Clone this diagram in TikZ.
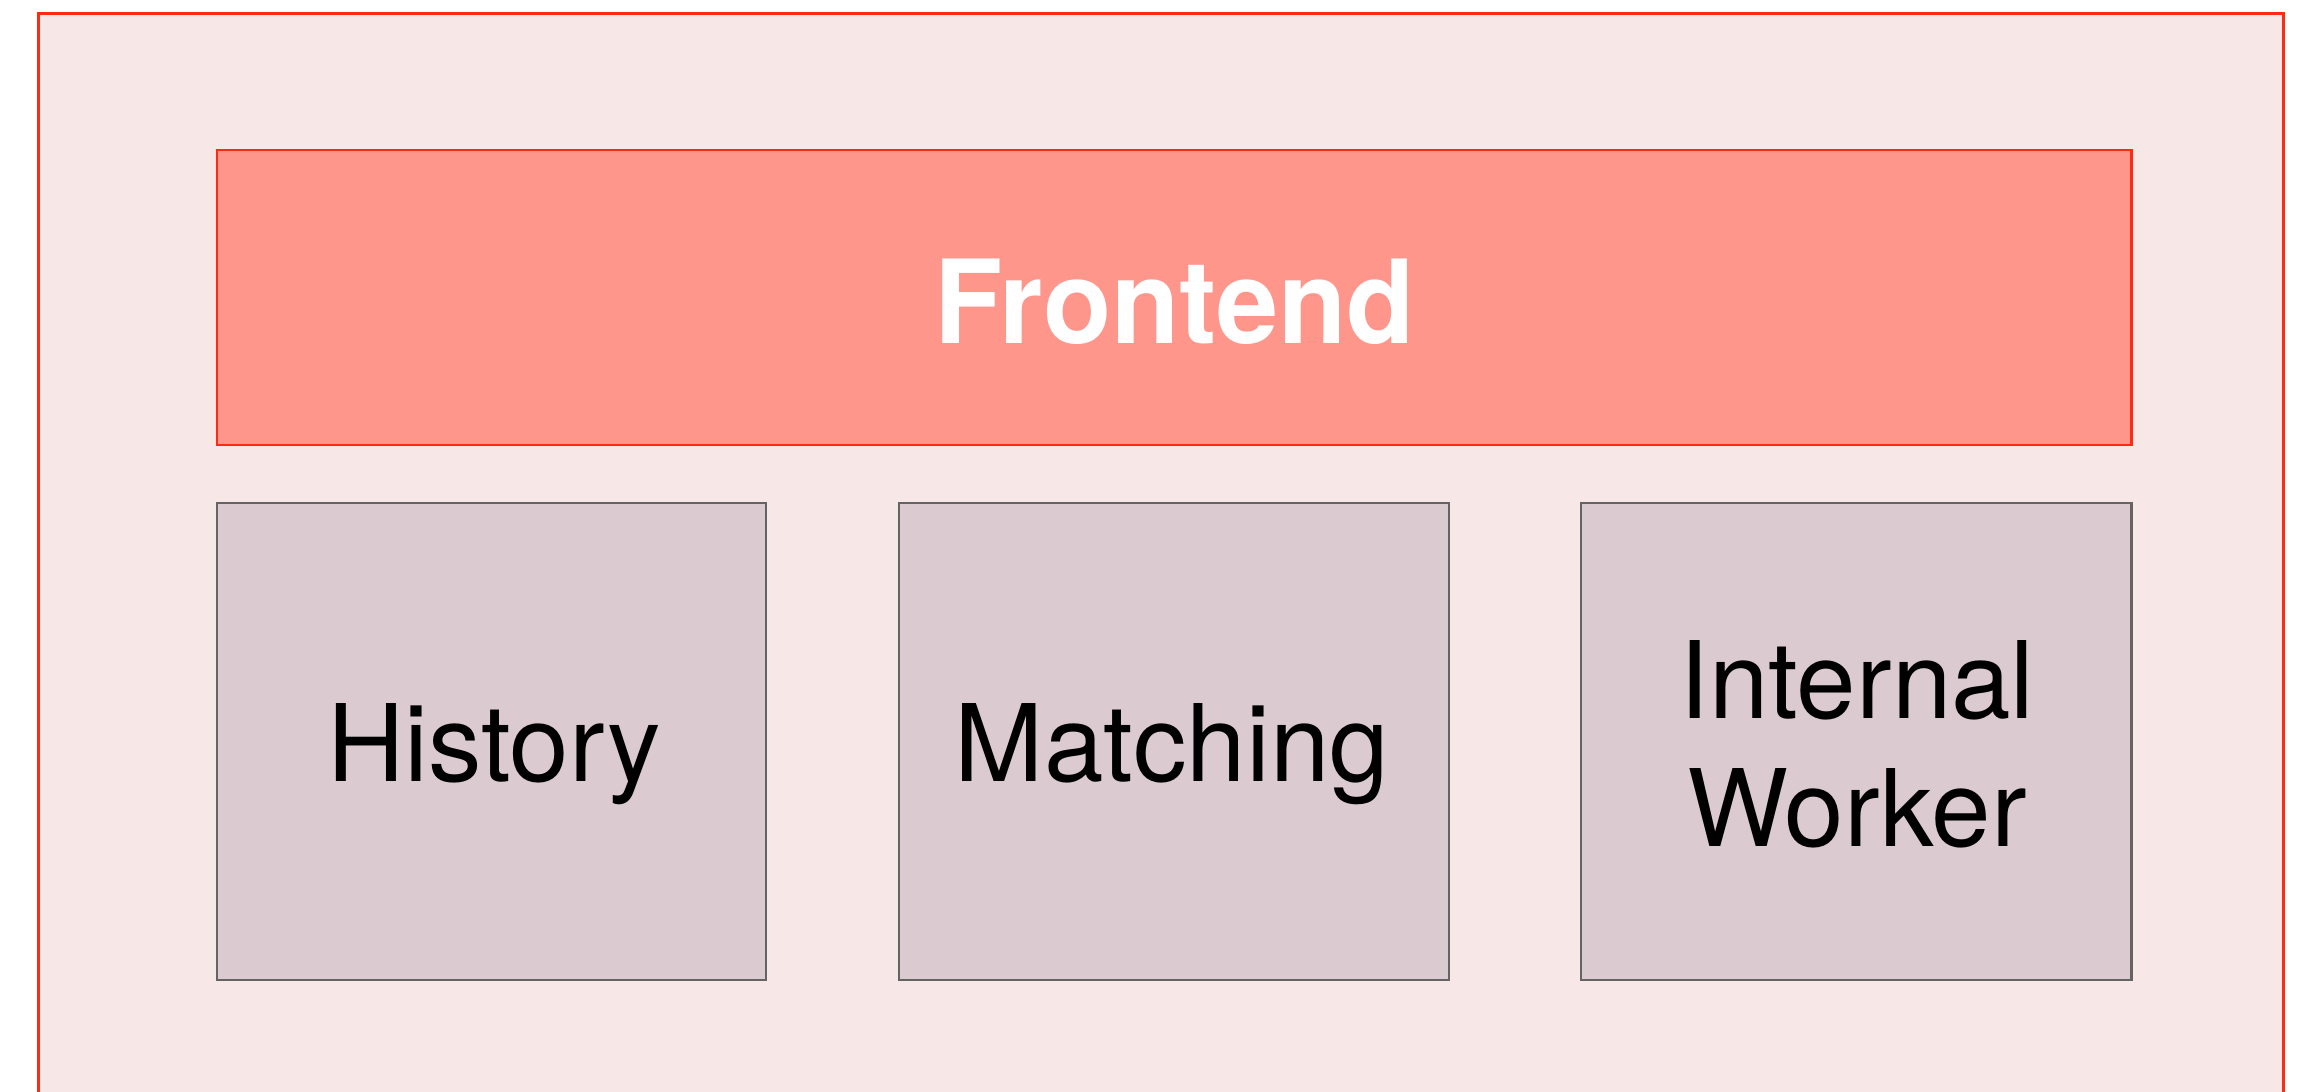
\documentclass[tikz,border=0pt]{standalone}
\usepackage{fontspec}
\setmainfont{TeX Gyre Heros}
\definecolor{outerfill}{HTML}{F7E7E7}
\definecolor{redline}{HTML}{FF2A12}
\definecolor{frontfill}{HTML}{FF968C}
\definecolor{boxfill}{HTML}{DBCBD0}
\definecolor{boxline}{HTML}{646464}
\begin{document}
\begin{tikzpicture}[x=1pt,y=-1pt,
  outerbox/.style={draw=redline,fill=outerfill,line width=3pt},
  frontbox/.style={draw=redline,fill=frontfill,line width=2.8pt},
  compbox/.style={draw=boxline,fill=boxfill,line width=2.6pt},
  compfont/.style={font=\fontsize{107}{128}\selectfont,text=black,inner sep=0pt,anchor=base},
  frontfont/.style={font=\fontsize{116}{139}\selectfont\bfseries,text=white,inner sep=0pt,anchor=base}]
\clip (0,0) rectangle (2311,1092);
\useasboundingbox (0,0) rectangle (2311,1092);
\draw[outerbox] (38,13) rectangle (2283,1120);
\coordinate (fa) at (217,150);
\coordinate (fb) at (2131.5,445);
\draw[frontbox] (fa) rectangle (fb);
\node[frontfont] (front) at (1174.5,343.3) {\scalebox{0.963}[1]{Frontend}};
\draw[compbox] (217,503) rectangle (766,980);
\draw[compbox] (899,503) rectangle (1449,980);
\draw[compbox] (1581,503) rectangle (2131.5,980);
\node[compfont] (hist) at (494,781.7) {History};
\node[compfont] (match) at (1172,781.7) {Matching};
\node[compfont] (iw1) at (1857,718.3) {Internal};
\node[compfont] (iw2) at (1857,846.7) {Worker};
\end{tikzpicture}
\end{document}
